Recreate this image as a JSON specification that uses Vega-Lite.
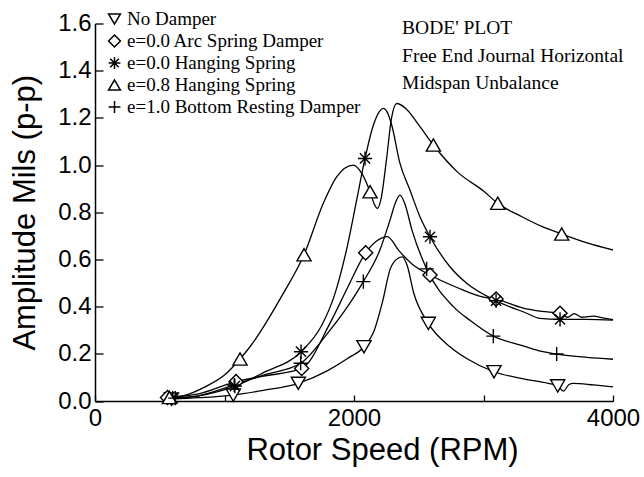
{
  "$schema": "https://vega.github.io/schema/vega-lite/v6.json",
  "width": 518,
  "height": 377.5,
  "autosize": "none",
  "padding": {"left": 95, "top": 23.5, "right": 31, "bottom": 76},
  "background": "white",
  "config": {
    "view": {"stroke": null},
    "axis": {"grid": false, "domainColor": "black", "domainWidth": 1.5, "tickColor": "black", "tickWidth": 1.3, "labelColor": "black", "titleColor": "black", "labelFont": "Liberation Sans", "titleFont": "Liberation Sans", "labelFontSize": 24, "titleFontSize": 30, "titleFontWeight": "normal"}
  },
  "datasets": {
    "bode": [
      {"s": "No Damper", "x": 590, "y": 0.008, "m": true},
      {"s": "No Damper", "x": 800, "y": 0.014, "m": false},
      {"s": "No Damper", "x": 1068, "y": 0.025, "m": true},
      {"s": "No Damper", "x": 1300, "y": 0.045, "m": false},
      {"s": "No Damper", "x": 1570, "y": 0.075, "m": true},
      {"s": "No Damper", "x": 1800, "y": 0.13, "m": false},
      {"s": "No Damper", "x": 1950, "y": 0.18, "m": false},
      {"s": "No Damper", "x": 2077, "y": 0.23, "m": true},
      {"s": "No Damper", "x": 2150, "y": 0.29, "m": false},
      {"s": "No Damper", "x": 2220, "y": 0.42, "m": false},
      {"s": "No Damper", "x": 2280, "y": 0.56, "m": false},
      {"s": "No Damper", "x": 2340, "y": 0.605, "m": false},
      {"s": "No Damper", "x": 2373, "y": 0.611, "m": false},
      {"s": "No Damper", "x": 2410, "y": 0.575, "m": false},
      {"s": "No Damper", "x": 2460, "y": 0.46, "m": false},
      {"s": "No Damper", "x": 2574, "y": 0.329, "m": true},
      {"s": "No Damper", "x": 2741, "y": 0.23, "m": false},
      {"s": "No Damper", "x": 2870, "y": 0.18, "m": false},
      {"s": "No Damper", "x": 3081, "y": 0.124, "m": true},
      {"s": "No Damper", "x": 3300, "y": 0.095, "m": false},
      {"s": "No Damper", "x": 3500, "y": 0.075, "m": false},
      {"s": "No Damper", "x": 3573, "y": 0.064, "m": true},
      {"s": "No Damper", "x": 3617, "y": 0.042, "m": false},
      {"s": "No Damper", "x": 3660, "y": 0.07, "m": false},
      {"s": "No Damper", "x": 3694, "y": 0.075, "m": false},
      {"s": "No Damper", "x": 3850, "y": 0.068, "m": false},
      {"s": "No Damper", "x": 4000, "y": 0.06, "m": false},

      {"s": "e=0.0 Arc Spring Damper", "x": 560, "y": 0.015, "m": true},
      {"s": "e=0.0 Arc Spring Damper", "x": 800, "y": 0.03, "m": false},
      {"s": "e=0.0 Arc Spring Damper", "x": 1089, "y": 0.082, "m": true},
      {"s": "e=0.0 Arc Spring Damper", "x": 1300, "y": 0.105, "m": false},
      {"s": "e=0.0 Arc Spring Damper", "x": 1596, "y": 0.138, "m": true},
      {"s": "e=0.0 Arc Spring Damper", "x": 1815, "y": 0.33, "m": false},
      {"s": "e=0.0 Arc Spring Damper", "x": 1950, "y": 0.48, "m": false},
      {"s": "e=0.0 Arc Spring Damper", "x": 2090, "y": 0.628, "m": true},
      {"s": "e=0.0 Arc Spring Damper", "x": 2180, "y": 0.68, "m": false},
      {"s": "e=0.0 Arc Spring Damper", "x": 2257, "y": 0.697, "m": false},
      {"s": "e=0.0 Arc Spring Damper", "x": 2350, "y": 0.635, "m": false},
      {"s": "e=0.0 Arc Spring Damper", "x": 2450, "y": 0.58, "m": false},
      {"s": "e=0.0 Arc Spring Damper", "x": 2587, "y": 0.534, "m": true},
      {"s": "e=0.0 Arc Spring Damper", "x": 2800, "y": 0.48, "m": false},
      {"s": "e=0.0 Arc Spring Damper", "x": 3000, "y": 0.44, "m": false},
      {"s": "e=0.0 Arc Spring Damper", "x": 3097, "y": 0.432, "m": true},
      {"s": "e=0.0 Arc Spring Damper", "x": 3300, "y": 0.395, "m": false},
      {"s": "e=0.0 Arc Spring Damper", "x": 3450, "y": 0.38, "m": false},
      {"s": "e=0.0 Arc Spring Damper", "x": 3591, "y": 0.372, "m": true},
      {"s": "e=0.0 Arc Spring Damper", "x": 3650, "y": 0.355, "m": false},
      {"s": "e=0.0 Arc Spring Damper", "x": 3700, "y": 0.37, "m": false},
      {"s": "e=0.0 Arc Spring Damper", "x": 3760, "y": 0.355, "m": false},
      {"s": "e=0.0 Arc Spring Damper", "x": 3850, "y": 0.36, "m": false},
      {"s": "e=0.0 Arc Spring Damper", "x": 3920, "y": 0.352, "m": false},
      {"s": "e=0.0 Arc Spring Damper", "x": 4000, "y": 0.345, "m": false},

      {"s": "e=0.0 Hanging Spring", "x": 600, "y": 0.012, "m": true},
      {"s": "e=0.0 Hanging Spring", "x": 800, "y": 0.022, "m": false},
      {"s": "e=0.0 Hanging Spring", "x": 1080, "y": 0.063, "m": true},
      {"s": "e=0.0 Hanging Spring", "x": 1300, "y": 0.12, "m": false},
      {"s": "e=0.0 Hanging Spring", "x": 1591, "y": 0.209, "m": true},
      {"s": "e=0.0 Hanging Spring", "x": 1750, "y": 0.32, "m": false},
      {"s": "e=0.0 Hanging Spring", "x": 1850, "y": 0.45, "m": false},
      {"s": "e=0.0 Hanging Spring", "x": 1950, "y": 0.66, "m": false},
      {"s": "e=0.0 Hanging Spring", "x": 2020, "y": 0.85, "m": false},
      {"s": "e=0.0 Hanging Spring", "x": 2085, "y": 1.028, "m": true},
      {"s": "e=0.0 Hanging Spring", "x": 2150, "y": 1.17, "m": false},
      {"s": "e=0.0 Hanging Spring", "x": 2200, "y": 1.23, "m": false},
      {"s": "e=0.0 Hanging Spring", "x": 2226, "y": 1.24, "m": false},
      {"s": "e=0.0 Hanging Spring", "x": 2260, "y": 1.22, "m": false},
      {"s": "e=0.0 Hanging Spring", "x": 2291, "y": 1.17, "m": false},
      {"s": "e=0.0 Hanging Spring", "x": 2355, "y": 1.007, "m": false},
      {"s": "e=0.0 Hanging Spring", "x": 2432, "y": 0.894, "m": false},
      {"s": "e=0.0 Hanging Spring", "x": 2510, "y": 0.78, "m": false},
      {"s": "e=0.0 Hanging Spring", "x": 2587, "y": 0.696, "m": true},
      {"s": "e=0.0 Hanging Spring", "x": 2741, "y": 0.569, "m": false},
      {"s": "e=0.0 Hanging Spring", "x": 2870, "y": 0.499, "m": false},
      {"s": "e=0.0 Hanging Spring", "x": 3097, "y": 0.425, "m": true},
      {"s": "e=0.0 Hanging Spring", "x": 3333, "y": 0.372, "m": false},
      {"s": "e=0.0 Hanging Spring", "x": 3436, "y": 0.35, "m": false},
      {"s": "e=0.0 Hanging Spring", "x": 3591, "y": 0.346, "m": true},
      {"s": "e=0.0 Hanging Spring", "x": 3797, "y": 0.346, "m": false},
      {"s": "e=0.0 Hanging Spring", "x": 4000, "y": 0.343, "m": false},

      {"s": "e=0.8 Hanging Spring", "x": 575, "y": 0.015, "m": true},
      {"s": "e=0.8 Hanging Spring", "x": 700, "y": 0.025, "m": false},
      {"s": "e=0.8 Hanging Spring", "x": 850, "y": 0.06, "m": false},
      {"s": "e=0.8 Hanging Spring", "x": 1000, "y": 0.11, "m": false},
      {"s": "e=0.8 Hanging Spring", "x": 1120, "y": 0.178, "m": true},
      {"s": "e=0.8 Hanging Spring", "x": 1197, "y": 0.23, "m": false},
      {"s": "e=0.8 Hanging Spring", "x": 1454, "y": 0.456, "m": false},
      {"s": "e=0.8 Hanging Spring", "x": 1614, "y": 0.62, "m": true},
      {"s": "e=0.8 Hanging Spring", "x": 1763, "y": 0.838, "m": false},
      {"s": "e=0.8 Hanging Spring", "x": 1866, "y": 0.95, "m": false},
      {"s": "e=0.8 Hanging Spring", "x": 1995, "y": 1.0, "m": false},
      {"s": "e=0.8 Hanging Spring", "x": 2060, "y": 0.965, "m": false},
      {"s": "e=0.8 Hanging Spring", "x": 2124, "y": 0.887, "m": true},
      {"s": "e=0.8 Hanging Spring", "x": 2160, "y": 0.83, "m": false},
      {"s": "e=0.8 Hanging Spring", "x": 2180, "y": 0.816, "m": false},
      {"s": "e=0.8 Hanging Spring", "x": 2210, "y": 0.86, "m": false},
      {"s": "e=0.8 Hanging Spring", "x": 2250, "y": 1.02, "m": false},
      {"s": "e=0.8 Hanging Spring", "x": 2290, "y": 1.2, "m": false},
      {"s": "e=0.8 Hanging Spring", "x": 2330, "y": 1.261, "m": false},
      {"s": "e=0.8 Hanging Spring", "x": 2400, "y": 1.24, "m": false},
      {"s": "e=0.8 Hanging Spring", "x": 2500, "y": 1.17, "m": false},
      {"s": "e=0.8 Hanging Spring", "x": 2613, "y": 1.085, "m": true},
      {"s": "e=0.8 Hanging Spring", "x": 2800, "y": 0.97, "m": false},
      {"s": "e=0.8 Hanging Spring", "x": 3000, "y": 0.89, "m": false},
      {"s": "e=0.8 Hanging Spring", "x": 3110, "y": 0.838, "m": true},
      {"s": "e=0.8 Hanging Spring", "x": 3300, "y": 0.78, "m": false},
      {"s": "e=0.8 Hanging Spring", "x": 3450, "y": 0.74, "m": false},
      {"s": "e=0.8 Hanging Spring", "x": 3604, "y": 0.708, "m": true},
      {"s": "e=0.8 Hanging Spring", "x": 3800, "y": 0.67, "m": false},
      {"s": "e=0.8 Hanging Spring", "x": 4000, "y": 0.64, "m": false},

      {"s": "e=1.0 Bottom Resting Damper", "x": 620, "y": 0.012, "m": true},
      {"s": "e=1.0 Bottom Resting Damper", "x": 800, "y": 0.022, "m": false},
      {"s": "e=1.0 Bottom Resting Damper", "x": 1075, "y": 0.068, "m": true},
      {"s": "e=1.0 Bottom Resting Damper", "x": 1300, "y": 0.11, "m": false},
      {"s": "e=1.0 Bottom Resting Damper", "x": 1588, "y": 0.16, "m": true},
      {"s": "e=1.0 Bottom Resting Damper", "x": 1800, "y": 0.29, "m": false},
      {"s": "e=1.0 Bottom Resting Damper", "x": 1950, "y": 0.4, "m": false},
      {"s": "e=1.0 Bottom Resting Damper", "x": 2072, "y": 0.506, "m": true},
      {"s": "e=1.0 Bottom Resting Damper", "x": 2200, "y": 0.64, "m": false},
      {"s": "e=1.0 Bottom Resting Damper", "x": 2280, "y": 0.77, "m": false},
      {"s": "e=1.0 Bottom Resting Damper", "x": 2320, "y": 0.84, "m": false},
      {"s": "e=1.0 Bottom Resting Damper", "x": 2355, "y": 0.873, "m": false},
      {"s": "e=1.0 Bottom Resting Damper", "x": 2390, "y": 0.84, "m": false},
      {"s": "e=1.0 Bottom Resting Damper", "x": 2450, "y": 0.72, "m": false},
      {"s": "e=1.0 Bottom Resting Damper", "x": 2561, "y": 0.56, "m": true},
      {"s": "e=1.0 Bottom Resting Damper", "x": 2767, "y": 0.4, "m": false},
      {"s": "e=1.0 Bottom Resting Damper", "x": 2900, "y": 0.34, "m": false},
      {"s": "e=1.0 Bottom Resting Damper", "x": 3076, "y": 0.275, "m": true},
      {"s": "e=1.0 Bottom Resting Damper", "x": 3300, "y": 0.235, "m": false},
      {"s": "e=1.0 Bottom Resting Damper", "x": 3450, "y": 0.21, "m": false},
      {"s": "e=1.0 Bottom Resting Damper", "x": 3565, "y": 0.199, "m": true},
      {"s": "e=1.0 Bottom Resting Damper", "x": 3800, "y": 0.185, "m": false},
      {"s": "e=1.0 Bottom Resting Damper", "x": 4000, "y": 0.177, "m": false}
    ]
  },
  "layer": [
    {
      "data": {"name": "bode"},
      "mark": {"type": "line", "interpolate": "monotone", "color": "black", "strokeWidth": 1.3},
      "encoding": {
        "x": {"field": "x", "type": "quantitative", "scale": {"domain": [0, 4000], "nice": false},
          "axis": {"title": "Rotor Speed (RPM)", "values": [0, 1000, 2000, 3000, 4000], "format": "d", "labelExpr": "datum.value % 2000 === 0 ? datum.label : ''", "tickSize": -6, "labelPadding": 11, "titlePadding": 5, "titleX": 287, "titleFontSize": 31, "labelFlush": false}},
        "y": {"field": "y", "type": "quantitative", "scale": {"domain": [0, 1.6], "nice": false},
          "axis": {"title": "Amplitude Mils (p-p)", "values": [0, 0.1, 0.2, 0.3, 0.4, 0.5, 0.6, 0.7, 0.8, 0.9, 1.0, 1.1, 1.2, 1.3, 1.4, 1.5, 1.6], "format": ".1f", "labelExpr": "round(datum.value * 10) % 2 === 0 ? datum.label : ''", "tickSize": {"condition": {"test": "round(datum.value * 10) % 2 === 0", "value": -8}, "value": -5}, "labelPadding": 12, "titlePadding": 16, "titleFontSize": 31}},
        "detail": {"field": "s"}
      }
    },
    {
      "data": {"name": "bode"},
      "transform": [{"filter": "datum.m"}],
      "mark": {"type": "point", "filled": false, "color": "black", "fill": "white", "strokeWidth": 1.4, "opacity": 1, "size": 200},
      "encoding": {
        "x": {"field": "x", "type": "quantitative"},
        "y": {"field": "y", "type": "quantitative"},
        "shape": {"field": "s", "type": "nominal",
          "scale": {"domain": ["No Damper", "e=0.0 Arc Spring Damper", "e=0.0 Hanging Spring", "e=0.8 Hanging Spring", "e=1.0 Bottom Resting Damper"],
            "range": ["triangle-down", "diamond", "M0,-1L0,1M-1,0L1,0M-0.72,-0.72L0.72,0.72M-0.72,0.72L0.72,-0.72", "triangle-up", "M-1,0L1,0M0,-1L0,1"]},
          "legend": {"orient": "none", "legendX": 10, "legendY": -14, "padding": 0, "title": null, "labelFont": "Liberation Serif", "labelFontSize": 19, "labelColor": "black", "symbolSize": 140, "symbolStrokeWidth": 1.5, "rowPadding": 2, "labelOffset": 3, "labelLimit": 400}}
      }
    },
    {
      "data": {"values": [{"note": "BODE' PLOT"}]},
      "mark": {"type": "text", "align": "left", "baseline": "top", "font": "Liberation Serif", "fontSize": 19.5, "lineHeight": 27.5, "color": "black"},
      "encoding": {
        "x": {"datum": 2371},
        "y": {"datum": 1.617},
        "text": {"value": ["BODE' PLOT", "Free End Journal Horizontal", "Midspan Unbalance"]}
      }
    }
  ]
}
